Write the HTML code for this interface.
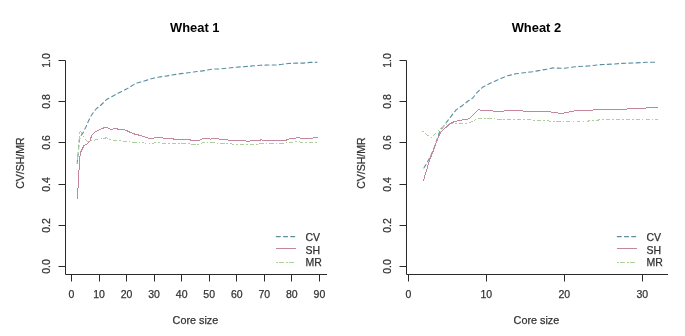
<!DOCTYPE html>
<html><head><meta charset="utf-8"><style>
html,body{margin:0;padding:0;background:#fff;}
body{width:685px;height:336px;overflow:hidden;}
svg{display:block;filter:blur(0.35px);}
.ax{fill:none;stroke:#2a2a2a;stroke-width:1;}
.t{font-family:"Liberation Sans",sans-serif;font-size:10.5px;fill:#333;stroke:#333;stroke-width:0.25;}
.xt{font-size:10.8px;}
.ttl{font-family:"Liberation Sans",sans-serif;font-size:12.9px;font-weight:bold;fill:#000;}
.cv{fill:none;stroke:#5a8fa0;stroke-width:1.1;stroke-dasharray:4.0 3.2;stroke-linecap:round;stroke-linejoin:round;shape-rendering:auto;}
.sh{fill:none;stroke:#c4869c;stroke-width:1;stroke-linejoin:round;stroke-linecap:round;shape-rendering:crispEdges;}
.mr{fill:none;stroke:#acd09c;stroke-width:1;stroke-dasharray:0.9 2.7 3.6 2.7;stroke-linecap:round;stroke-linejoin:round;shape-rendering:crispEdges;}
</style></head><body>
<svg width="685" height="336" viewBox="0 0 685 336">
<path d="M65.5 60.5V274.5H327" class="ax"/>
<path d="M58.5 266.50H65.5" class="ax"/>
<text class="t" transform="translate(49.8 266.50) rotate(-90)" text-anchor="middle">0.0</text>
<path d="M58.5 225.50H65.5" class="ax"/>
<text class="t" transform="translate(49.8 225.50) rotate(-90)" text-anchor="middle">0.2</text>
<path d="M58.5 184.50H65.5" class="ax"/>
<text class="t" transform="translate(49.8 184.50) rotate(-90)" text-anchor="middle">0.4</text>
<path d="M58.5 142.50H65.5" class="ax"/>
<text class="t" transform="translate(49.8 142.50) rotate(-90)" text-anchor="middle">0.6</text>
<path d="M58.5 101.50H65.5" class="ax"/>
<text class="t" transform="translate(49.8 101.50) rotate(-90)" text-anchor="middle">0.8</text>
<path d="M58.5 60.50H65.5" class="ax"/>
<text class="t" transform="translate(49.8 60.50) rotate(-90)" text-anchor="middle">1.0</text>
<path d="M71.50 274.5V281.5" class="ax"/>
<text class="t" x="71.46" y="297.8" text-anchor="middle">0</text>
<path d="M99.50 274.5V281.5" class="ax"/>
<text class="t" x="99.01" y="297.8" text-anchor="middle">10</text>
<path d="M126.50 274.5V281.5" class="ax"/>
<text class="t" x="126.56" y="297.8" text-anchor="middle">20</text>
<path d="M154.50 274.5V281.5" class="ax"/>
<text class="t" x="154.11" y="297.8" text-anchor="middle">30</text>
<path d="M181.50 274.5V281.5" class="ax"/>
<text class="t" x="181.66" y="297.8" text-anchor="middle">40</text>
<path d="M209.50 274.5V281.5" class="ax"/>
<text class="t" x="209.21" y="297.8" text-anchor="middle">50</text>
<path d="M236.50 274.5V281.5" class="ax"/>
<text class="t" x="236.76" y="297.8" text-anchor="middle">60</text>
<path d="M264.50 274.5V281.5" class="ax"/>
<text class="t" x="264.31" y="297.8" text-anchor="middle">70</text>
<path d="M291.50 274.5V281.5" class="ax"/>
<text class="t" x="291.86" y="297.8" text-anchor="middle">80</text>
<path d="M319.50 274.5V281.5" class="ax"/>
<text class="t" x="319.41" y="297.8" text-anchor="middle">90</text>
<text class="ttl" x="194.8" y="31.8" text-anchor="middle">Wheat 1</text>
<text class="t xt" x="195.4" y="323.7" text-anchor="middle">Core size</text>
<text class="t" transform="translate(24.1 163.2) rotate(-90)" text-anchor="middle">CV/SH/MR</text>
<polyline class="cv" points="77.2,163.5 78.5,150.0 79.2,140.0 80.5,136.0 82.4,134.0 83.7,131.3 85.8,127.2 88.7,120.5 91.0,116.0 93.2,112.7 96.5,108.5 100.4,105.6 103.5,102.6 106.7,99.4 117.1,93.8 127.5,88.5 135.8,83.3 144.2,81.0 151.2,78.8 156.7,77.4 167.0,75.9 177.5,74.1 190.0,72.5 205.0,70.6 212.5,69.0 219.6,69.0 226.8,68.2 233.3,67.5 240.5,66.9 247.6,66.4 254.2,65.8 260.7,65.2 268.5,65.0 275.6,65.0 282.1,64.3 288.1,63.5 295.8,63.1 303.0,63.1 310.1,62.4 317.0,62.3"/>
<polyline class="mr" points="77.4,163.0 80.0,130.5 82.8,135.5 86.6,140.5 88.6,142.0 91.0,140.5 94.0,140.2 97.0,139.3 100.6,139.0 106.5,137.8 110.7,139.6 115.5,140.8 119.0,140.3 125.0,141.4 131.0,142.0 136.9,142.6 144.0,143.0 151.2,143.2 153.9,143.0 156.6,142.1 160.5,142.5 163.0,143.4 189.4,143.4 192.0,144.7 197.3,144.7 201.2,143.4 203.9,142.1 207.8,142.1 211.8,142.5 215.7,142.7 218.3,143.4 228.8,143.4 234.1,144.4 246.8,144.7 256.7,144.7 260.0,143.4 285.0,143.4 287.6,142.5 292.8,142.1 296.8,141.4 300.7,142.2 317.1,142.2"/>
<polyline class="sh" points="77.3,199.0 78.8,175.0 79.4,160.0 80.7,152.1 83.9,145.6 88.1,143.2 90.2,140.5 91.5,135.8 93.5,133.2 96.0,131.5 99.4,129.8 104.8,127.4 107.7,127.7 110.7,129.3 115.5,128.6 119.0,129.3 123.8,129.3 127.4,131.0 133.3,133.7 139.3,135.2 146.4,137.3 151.2,139.0 156.6,137.2 160.5,137.5 163.1,138.1 171.0,138.1 173.7,139.1 188.1,139.1 190.7,140.1 199.9,140.1 203.9,138.1 207.8,138.1 210.4,139.1 213.1,138.1 217.0,138.1 219.6,139.1 224.9,139.5 228.8,140.1 234.1,141.0 245.5,140.8 248.1,141.7 250.8,140.8 258.7,140.8 261.3,139.7 263.2,140.8 265.2,140.1 286.2,140.1 290.2,138.5 295.4,138.1 298.1,137.2 300.7,138.1 312.5,138.1 314.5,137.2 317.1,137.5"/>
<path class="cv" d="M276.3 236.60H295.7"/>
<text class="t" x="305.5" y="241.30">CV</text>
<path class="sh" d="M276.3 248.90H295.7"/>
<text class="t" x="305.5" y="253.70">SH</text>
<path class="mr" d="M276.3 262.40H295.7"/>
<text class="t" x="305.5" y="266.20">MR</text>
<path d="M406.5 60.5V274.5H668.0" class="ax"/>
<path d="M399.5 266.50H406.5" class="ax"/>
<text class="t" transform="translate(390.8 266.50) rotate(-90)" text-anchor="middle">0.0</text>
<path d="M399.5 225.50H406.5" class="ax"/>
<text class="t" transform="translate(390.8 225.50) rotate(-90)" text-anchor="middle">0.2</text>
<path d="M399.5 184.50H406.5" class="ax"/>
<text class="t" transform="translate(390.8 184.50) rotate(-90)" text-anchor="middle">0.4</text>
<path d="M399.5 142.50H406.5" class="ax"/>
<text class="t" transform="translate(390.8 142.50) rotate(-90)" text-anchor="middle">0.6</text>
<path d="M399.5 101.50H406.5" class="ax"/>
<text class="t" transform="translate(390.8 101.50) rotate(-90)" text-anchor="middle">0.8</text>
<path d="M399.5 60.50H406.5" class="ax"/>
<text class="t" transform="translate(390.8 60.50) rotate(-90)" text-anchor="middle">1.0</text>
<path d="M408.50 274.5V281.5" class="ax"/>
<text class="t" x="408.30" y="297.8" text-anchor="middle">0</text>
<path d="M486.50 274.5V281.5" class="ax"/>
<text class="t" x="486.30" y="297.8" text-anchor="middle">10</text>
<path d="M564.50 274.5V281.5" class="ax"/>
<text class="t" x="564.30" y="297.8" text-anchor="middle">20</text>
<path d="M642.50 274.5V281.5" class="ax"/>
<text class="t" x="642.30" y="297.8" text-anchor="middle">30</text>
<text class="ttl" x="536.4" y="31.8" text-anchor="middle">Wheat 2</text>
<text class="t xt" x="536.4" y="323.7" text-anchor="middle">Core size</text>
<text class="t" transform="translate(365.1 163.2) rotate(-90)" text-anchor="middle">CV/SH/MR</text>
<polyline class="cv" points="423.9,168.0 430.0,157.5 433.2,150.3 436.3,141.8 439.5,132.0 446.8,121.8 450.3,117.4 453.0,113.8 456.2,109.9 462.1,105.7 468.1,101.0 472.9,98.0 476.2,93.5 482.5,87.3 490.8,83.0 499.2,79.2 507.5,75.8 515.8,73.8 524.2,72.7 532.5,71.7 538.8,70.6 547.1,69.2 553.3,67.9 563.9,68.4 575.1,66.7 588.5,66.0 599.6,64.7 613.0,64.1 622.0,63.4 635.4,62.9 646.5,62.3 657.7,62.3"/>
<polyline class="mr" points="422.8,131.3 426.9,134.9 431.7,137.3 435.9,133.1 440.6,128.3 445.4,125.4 451.3,123.0 453.8,123.0 462.1,123.3 469.3,123.0 475.2,120.0 479.4,118.5 490.8,118.5 499.2,119.6 532.5,120.0 555.0,121.4 561.7,122.1 568.4,121.0 588.5,121.0 599.6,119.9 657.7,119.9"/>
<polyline class="sh" points="423.3,181.0 429.6,160.0 433.4,150.5 436.5,141.8 438.4,136.8 440.3,133.0 444.0,129.2 448.0,125.5 450.3,123.6 454.8,121.4 461.0,120.2 469.3,118.8 472.9,115.2 478.3,109.6 482.5,110.8 490.8,110.8 499.2,111.7 507.5,110.6 520.0,110.8 532.5,111.7 549.2,111.7 555.0,112.5 561.7,113.6 568.4,112.1 575.1,110.7 588.5,110.3 606.3,109.2 622.0,109.2 639.8,108.5 657.7,107.1"/>
<path class="cv" d="M617.3 236.60H636.7"/>
<text class="t" x="646.5" y="241.30">CV</text>
<path class="sh" d="M617.3 248.90H636.7"/>
<text class="t" x="646.5" y="253.70">SH</text>
<path class="mr" d="M617.3 262.40H636.7"/>
<text class="t" x="646.5" y="266.20">MR</text>
</svg>
</body></html>
